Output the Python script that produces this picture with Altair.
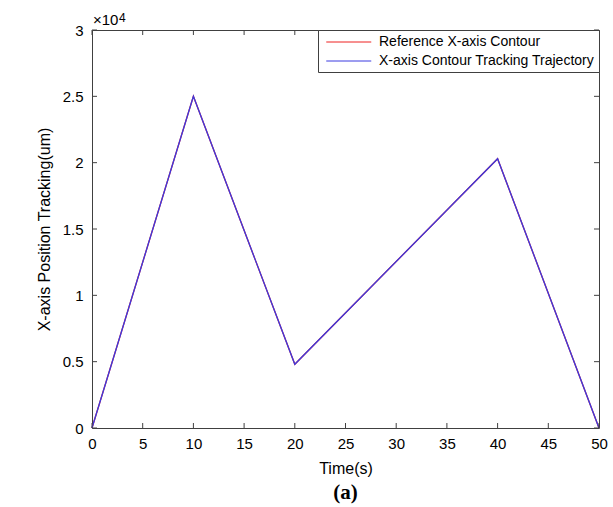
import altair as alt
import pandas as pd

# Contour points (time in seconds, position in micrometres)
time_s = [0, 10, 20, 40, 50]
reference_um = [0, 25000, 4800, 20300, 0]
tracking_um = [0, 25000, 4800, 20300, 0]

series_names = ["Reference X-axis Contour", "X-axis Contour Tracking Trajectory"]
series_colors = ["#ee2020", "#3a3ae0"]

x_ticks = [0, 5, 10, 15, 20, 25, 30, 35, 40, 45, 50]
y_ticks = [0, 5000, 10000, 15000, 20000, 25000, 30000]

W, H = 507, 398
FONT = "Liberation Sans"
FRAME = "#404040"
TICK_LEN = 5

df = pd.DataFrame({
    "t": time_s + time_s,
    "pos": reference_um + tracking_um,
    "series": [series_names[0]] * len(time_s) + [series_names[1]] * len(time_s),
})
xt = pd.DataFrame({"t": x_ticks})
yt = pd.DataFrame({"pos": y_ticks})

xscale = alt.Scale(domain=[0, 50], nice=False, zero=False)
yscale = alt.Scale(domain=[0, 30000], nice=False, zero=False)
cscale = alt.Scale(domain=series_names, range=series_colors)

x_enc = alt.X(
    "t:Q", scale=xscale,
    axis=alt.Axis(values=x_ticks, title="Time(s)", ticks=False, domain=False, grid=False,
                  labelFlush=False, labelOverlap=False,
                  labelFontSize=15, labelPadding=8, labelFont=FONT, labelColor="#000000",
                  titleFont=FONT, titleFontSize=16, titleFontWeight="normal",
                  titleColor="#000000", titlePadding=9),
)
y_enc = alt.Y(
    "pos:Q", scale=yscale,
    axis=alt.Axis(values=y_ticks, title="X-axis Position Tracking(um)", ticks=False,
                  domain=False, grid=False, labelExpr="toString(datum.value / 10000)",
                  labelFlush=False, labelOverlap=False,
                  labelFontSize=15, labelPadding=9, labelFont=FONT, labelColor="#000000",
                  titleFont=FONT, titleFontSize=16, titleFontWeight="normal",
                  titleColor="#000000", titlePadding=10),
)
# line-sample legend symbol: a 45px horizontal stroke drawn from a compact symbol box
color_enc = alt.Color(
    "series:N", scale=cscale,
    legend=alt.Legend(title=None, orient="top-right", offset=0,
                      symbolType="M-0.5,0H5.5", symbolSize=225, symbolStrokeWidth=1,
                      symbolFillColor="transparent",
                      labelFont=FONT, labelFontSize=14, labelColor="#000000",
                      labelOffset=41, padding=4, rowPadding=4, strokeColor=FRAME,
                      fillColor="#ffffff", cornerRadius=0, labelLimit=400),
)

base = alt.Chart(df)
ref_line = base.transform_filter(alt.datum.series == series_names[0]).mark_line(
    strokeWidth=1.3).encode(x=x_enc, y=y_enc, color=color_enc)
trk_line = base.transform_filter(alt.datum.series == series_names[1]).mark_line(
    strokeWidth=1.3).encode(x=x_enc, y=y_enc, color=color_enc)

# inward tick marks on all four sides of the box
xtick_bottom = alt.Chart(xt).mark_rule(color=FRAME, strokeWidth=1).encode(
    x=x_enc, y=alt.value(H), y2=alt.value(H - TICK_LEN))
xtick_top = alt.Chart(xt).mark_rule(color=FRAME, strokeWidth=1).encode(
    x=x_enc, y=alt.value(0), y2=alt.value(TICK_LEN))
ytick_left = alt.Chart(yt).mark_rule(color=FRAME, strokeWidth=1).encode(
    y=y_enc, x=alt.value(0), x2=alt.value(TICK_LEN))
ytick_right = alt.Chart(yt).mark_rule(color=FRAME, strokeWidth=1).encode(
    y=y_enc, x=alt.value(W), x2=alt.value(W - TICK_LEN))

# exponent marker above the y axis
exp_base = alt.Chart(pd.DataFrame({"s": ["\u00d710"]})).mark_text(
    font=FONT, fontSize=15, align="left", baseline="alphabetic", color="#000000"
).encode(x=alt.value(1), y=alt.value(-5), text="s:N")
exp_power = alt.Chart(pd.DataFrame({"s": ["4"]})).mark_text(
    font=FONT, fontSize=12, align="left", baseline="alphabetic", color="#000000"
).encode(x=alt.value(27), y=alt.value(-8), text="s:N")

# panel caption
caption = alt.Chart(pd.DataFrame({"s": ["(a)"]})).mark_text(
    font="Liberation Serif", fontSize=21, fontWeight="bold", align="center",
    baseline="middle", color="#000000"
).encode(x=alt.value(W / 2), y=alt.value(H + 65), text="s:N")

chart = alt.layer(
    ref_line, trk_line, xtick_bottom, xtick_top, ytick_left, ytick_right,
    exp_base, exp_power, caption,
).properties(
    width=W, height=H,
    autosize=alt.AutoSizeParams(type="none"),
    padding={"left": 92, "top": 30, "right": 14, "bottom": 79},
    background="#ffffff",
).configure_view(
    stroke=FRAME, strokeWidth=1,
)

chart.save("out.html", embed_options={"renderer": "svg", "actions": False})
